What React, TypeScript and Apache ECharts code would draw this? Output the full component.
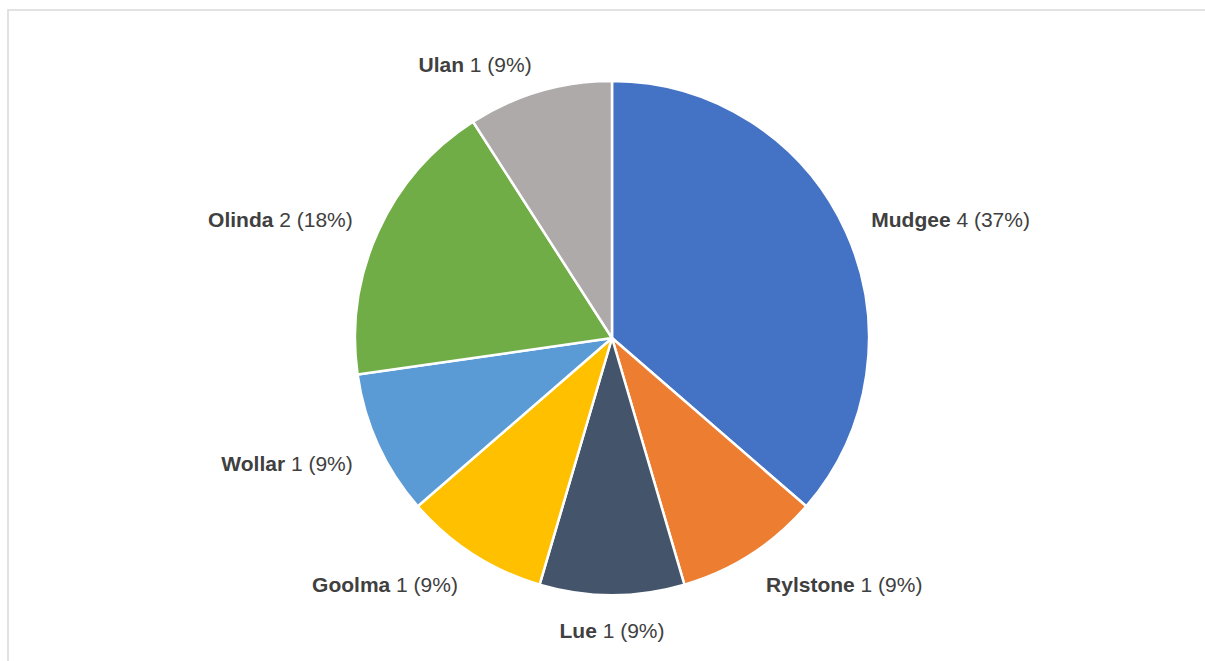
import React, { useEffect, useRef } from "react";
import * as echarts from "echarts";

const categories = ["Mudgee", "Rylstone", "Lue", "Goolma", "Wollar", "Olinda", "Ulan"];
const values = [4, 1, 1, 1, 1, 2, 1];
const percentLabels = ["37%", "9%", "9%", "9%", "9%", "18%", "9%"];
const colors = ["#4472C4", "#ED7D31", "#44546A", "#FFC000", "#5B9BD5", "#70AD47", "#AEAAAA"];

const CX = 612;
const CY = 338;
const R = 257;

export default function App() {
  const ref = useRef<HTMLDivElement>(null);
  useEffect(() => {
    if (!ref.current) return;
    const chart = echarts.init(ref.current, null, { renderer: "svg" });
    const total = values.reduce((a, b) => a + b, 0);
    const cumBefore: number[] = [];
    let acc = 0;
    values.forEach((v) => {
      cumBefore.push(acc);
      acc += v;
    });
    chart.setOption({
      animation: false,
      backgroundColor: "#ffffff",
      graphic: [
        {
          type: "rect",
          shape: { x: 8, y: 10, width: 1400, height: 900 },
          style: { fill: "none", stroke: "#d9d9d9", lineWidth: 1.5 },
          silent: true,
        },
      ],
      series: [
        {
          type: "pie",
          center: [CX, CY],
          radius: R,
          startAngle: 90,
          clockwise: true,
          avoidLabelOverlap: false,
          itemStyle: { borderColor: "#ffffff", borderWidth: 2.5 },
          label: {
            show: true,
            position: "outside",
            fontFamily: "'Liberation Sans', Arial, sans-serif",
            fontSize: 21,
            color: "#404040",
            formatter: (p: any) =>
              `{b|${p.name}} ${p.value} (${percentLabels[p.dataIndex]})`,
            rich: {
              b: {
                fontFamily: "'Liberation Sans', Arial, sans-serif",
                fontSize: 21,
                fontWeight: "bold",
                color: "#404040",
              },
            },
          },
          labelLine: { show: false, length: 27, length2: 0 },
          labelLayout: (params: any) => {
            const i = params.dataIndex;
            const a = ((cumBefore[i] + values[i] / 2) / total) * Math.PI * 2;
            const s = Math.sin(a);
            const c = Math.cos(a);
            const align = Math.abs(s) < 0.05 ? "center" : s > 0 ? "left" : "right";
            return {
              x: CX + s * 285,
              y: CY - c * 285 + (c < 0 ? 7 : 0),
              align,
              verticalAlign: "middle",
            };
          },
          data: categories.map((name, i) => ({
            name,
            value: values[i],
            itemStyle: { color: colors[i] },
          })),
        },
      ],
    });
    return () => chart.dispose();
  }, []);
  return (
    <div
      ref={ref}
      style={{ position: "fixed", left: 0, top: 0, width: 1205, height: 661 }}
    />
  );
}
